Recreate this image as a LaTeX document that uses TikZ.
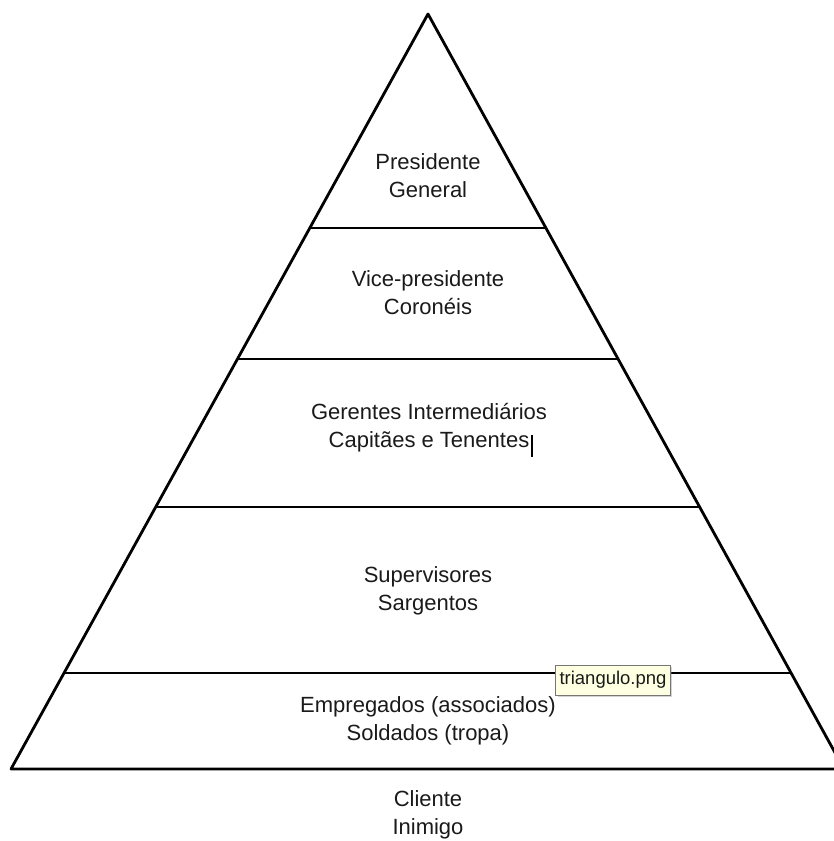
\documentclass[tikz,border=0pt]{standalone}
\usepackage{fontspec}
\setmainfont{Liberation Sans}
\usetikzlibrary{calc,shadows}
\definecolor{tipfill}{HTML}{FFFFE1}
\definecolor{tipborder}{HTML}{767676}
\definecolor{txt}{HTML}{1A1A1A}
\begin{document}
\begin{tikzpicture}[x=1pt,y=-1pt,
  edge/.style={line width=2.8pt,line cap=round,line join=round},
  level/.style={line width=2.4pt},
  lbl/.style={align=center,font=\fontsize{22}{28}\selectfont,text=txt,inner sep=0pt},
  tip/.style={draw=tipborder,fill=tipfill,line width=1pt,font=\fontsize{18.5}{20}\selectfont,text=txt,inner xsep=4pt,inner ysep=3pt,minimum height=30pt,drop shadow={shadow xshift=2pt,shadow yshift=-2pt,opacity=0.35}}]
\useasboundingbox (0,0) rectangle (834,841);
\clip (0,0) rectangle (834,841);
\coordinate (apex) at (428,14);
\coordinate (bl) at (11,769);
\coordinate (br) at (844,769);
\coordinate (be) at (840,769);
% levels
\foreach \t/\n in {0.2834/a,0.4570/b,0.6530/c,0.8728/d}{
  \coordinate (l\n) at ($(apex)!\t!(bl)$);
  \coordinate (r\n) at ($(apex)!\t!(br)$);
  \draw[level] (l\n) -- (r\n);
}
\draw[edge] (br) -- (apex) -- (bl) -- (be);
% labels
\node[lbl] (n1) at (428,176) {Presidente\\General};
\node[lbl] (n2) at (428,293) {Vice-presidente\\Coronéis};
\node[lbl] (n3) at (429,428) {Gerentes Intermediários\\Capitães e Tenentes};
\node[lbl] (n4) at (428,591) {Supervisores\\Sargentos};
\node[lbl] (n5) at (428,721) {Empregados (associados)\\Soldados (tropa)};
\node[lbl] (n6) at (428,815) {Cliente\\Inimigo};
% text cursor
\coordinate (c1) at (532,435);
\coordinate (c2) at (532,457);
\draw[line width=1.2pt,black] (c1) -- (c2);
% tooltip
\node[tip] (tt) at (613,680) {triangulo.png};
\end{tikzpicture}
\end{document}
